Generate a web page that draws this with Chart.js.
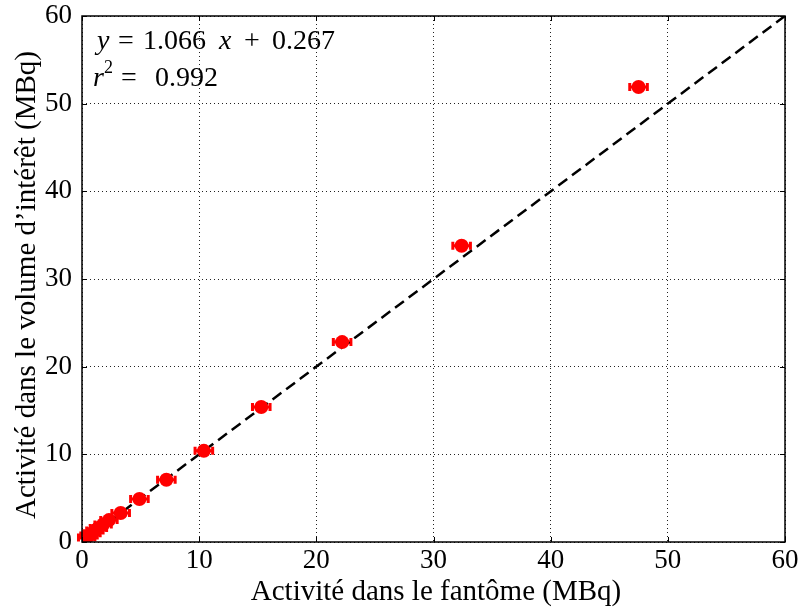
<!DOCTYPE html>
<html>
<head>
<meta charset="utf-8">
<script src="https://cdn.jsdelivr.net/npm/chart.js@4.4.0/dist/chart.umd.min.js"></script>
<style>
html,body{margin:0;padding:0;background:#fff;}
#wrap{width:800px;height:609px;position:relative;}
</style>
</head>
<body>
<div id="wrap"><canvas id="c" width="800" height="609"></canvas></div>
<script>
// Data
const phantomActivity = [0.4, 0.6, 0.85, 1.1, 1.4, 1.8, 2.3, 3.3, 4.9, 7.2, 10.4, 15.3, 22.2, 32.4, 47.5];
const voiActivity     = [0.5, 0.75, 1.0, 1.3, 1.6, 2.0, 2.5, 3.3, 4.9, 7.1, 10.4, 15.4, 22.8, 33.8, 51.9];
const phantomError    = [0.7, 0.7, 0.7, 0.7, 0.7, 0.7, 0.7, 0.75, 0.75, 0.75, 0.75, 0.75, 0.75, 0.75, 0.75];
const identityLine    = [0, 60];
const xTicks = [0, 10, 20, 30, 40, 50, 60];
const yTicks = [0, 10, 20, 30, 40, 50, 60];
const xLabel = "Activité dans le fantôme (MBq)";
const yLabel = "Activité dans le volume d\u2019intérêt (MBq)";
const fitSlope = "1.066", fitIntercept = "0.267", fitR2 = "0.992";

const FONT = '"Liberation Serif", "DejaVu Serif", serif';

const points = phantomActivity.map((x, i) => ({x: x, y: voiActivity[i]}));
const linePts = identityLine.map(v => ({x: v, y: v}));

const framePlugin = {
  id: 'frame',
  beforeDatasetsDraw(chart) {
    const {ctx, scales: {x, y}} = chart;
    // horizontal error bars with caps
    ctx.save();
    ctx.strokeStyle = '#ff0000';
    ctx.lineWidth = 3;
    phantomActivity.forEach((xv, i) => {
      const px0 = x.getPixelForValue(xv - phantomError[i]);
      const px1 = x.getPixelForValue(xv + phantomError[i]);
      const py = y.getPixelForValue(voiActivity[i]);
      ctx.beginPath();
      ctx.moveTo(px0, py); ctx.lineTo(px1, py);
      ctx.moveTo(px0, py - 4); ctx.lineTo(px0, py + 4);
      ctx.moveTo(px1, py - 4); ctx.lineTo(px1, py + 4);
      ctx.stroke();
    });
    ctx.restore();
  },
  afterDraw(chart) {
    const {ctx, chartArea: a, scales: {x, y}} = chart;
    ctx.save();
    // inward ticks on all four sides
    ctx.strokeStyle = '#000';
    ctx.lineWidth = 1;
    const L = 5;
    xTicks.forEach(v => {
      const px = Math.round(x.getPixelForValue(v)) + 0.5;
      ctx.beginPath();
      ctx.moveTo(px, a.bottom); ctx.lineTo(px, a.bottom - L);
      ctx.moveTo(px, a.top); ctx.lineTo(px, a.top + L);
      ctx.stroke();
    });
    yTicks.forEach(v => {
      const py = Math.round(y.getPixelForValue(v)) + 0.5;
      ctx.beginPath();
      ctx.moveTo(a.left, py); ctx.lineTo(a.left + L, py);
      ctx.moveTo(a.right, py); ctx.lineTo(a.right - L, py);
      ctx.stroke();
    });
    // frame
    ctx.lineWidth = 1.5;
    ctx.strokeRect(a.left, a.top, a.right - a.left, a.bottom - a.top);
    // axis titles
    ctx.fillStyle = '#000';
    ctx.font = '29px ' + FONT;
    ctx.textAlign = 'center';
    ctx.textBaseline = 'alphabetic';
    ctx.fillText(xLabel, 436, 600);
    ctx.save();
    ctx.translate(35, 285);
    ctx.rotate(-Math.PI / 2);
    ctx.fillText(yLabel, 0, 0);
    ctx.restore();
    // fit annotation
    ctx.textAlign = 'left';
    const put = (t, px, py, it, size) => {
      ctx.font = (it ? 'italic ' : '') + (size || 28) + 'px ' + FONT;
      ctx.fillText(t, px, py);
    };
    put('y', 97, 49, true);
    put('=', 118, 49);
    put(fitSlope, 143, 49);
    put('x', 219, 49, true);
    put('+', 244, 49);
    put(fitIntercept, 272, 49);
    put('r', 93, 86, true);
    put('2', 104, 73, false, 18);
    put('=', 121, 86);
    put(fitR2, 155, 86);
    ctx.restore();
  }
};

new Chart(document.getElementById('c'), {
  type: 'scatter',
  data: {
    datasets: [
      {
        type: 'line',
        data: linePts,
        borderColor: '#000',
        borderWidth: 2.5,
        borderDash: [11, 6],
        pointRadius: 0,
        fill: false,
        order: 2
      },
      {
        data: points,
        backgroundColor: '#ff0000',
        borderColor: '#ff0000',
        pointRadius: 7,
        pointHoverRadius: 7,
        borderWidth: 0,
        order: 1
      }
    ]
  },
  options: {
    responsive: false,
    animation: false,
    devicePixelRatio: 1,
    layout: {padding: {top: 16, right: 15, left: 0, bottom: 0}},
    plugins: {legend: {display: false}, tooltip: {enabled: false}},
    scales: {
      x: {
        type: 'linear',
        min: 0, max: 60,
        afterFit(s) { s.height = 67; s.paddingLeft = 0; s.paddingRight = 0; },
        afterBuildTicks(s) { s.ticks = xTicks.map(v => ({value: v})); },
        grid: {color: '#222', lineWidth: 1, drawTicks: false},
        border: {display: false, dash: [1, 3]},
        ticks: {color: '#000', font: {family: FONT, size: 27}, padding: 3, maxRotation: 0}
      },
      y: {
        type: 'linear',
        min: 0, max: 60,
        afterFit(s) { s.width = 82; s.paddingTop = 0; s.paddingBottom = 0; },
        afterBuildTicks(s) { s.ticks = yTicks.map(v => ({value: v})); },
        grid: {color: '#222', lineWidth: 1, drawTicks: false},
        border: {display: false, dash: [1, 3]},
        ticks: {color: '#000', font: {family: FONT, size: 27}, padding: 10}
      }
    }
  },
  plugins: [framePlugin]
});
</script>
</body>
</html>
